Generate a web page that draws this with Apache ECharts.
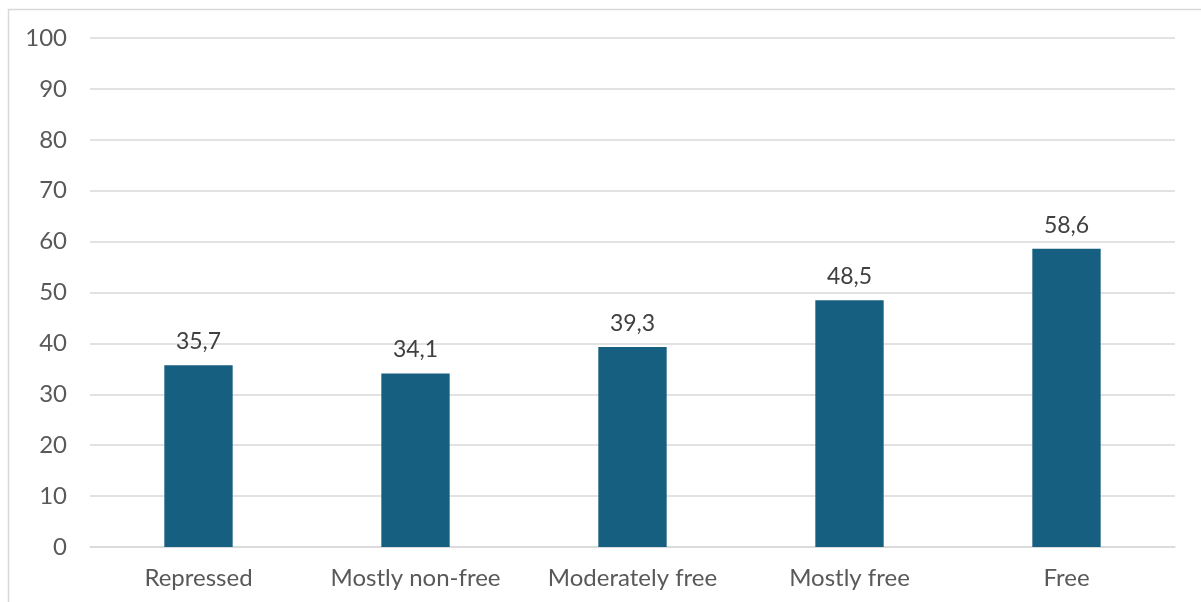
<!DOCTYPE html>
<html>
<head>
<meta charset="utf-8">
<script src="https://cdn.jsdelivr.net/npm/echarts@6/dist/echarts.min.js"></script>
<style>
  html, body { margin: 0; padding: 0; background: #ffffff; }
  #chart { width: 1201px; height: 602px; }
</style>
</head>
<body>
<div id="chart"></div>
<script>
// Categories and values for the bar chart
const categories = ['Repressed', 'Mostly non-free', 'Moderately free', 'Mostly free', 'Free'];
const values = [35.7, 34.1, 39.3, 48.5, 58.6];
const yTicks = [0, 10, 20, 30, 40, 50, 60, 70, 80, 90, 100];

const chart = echarts.init(document.getElementById('chart'), null, { renderer: 'canvas' });

const fmt = v => String(v).replace('.', ',');

chart.setOption({
  backgroundColor: '#ffffff',
  animation: false,
  textStyle: { fontFamily: 'Lato' },
  graphic: [{
    type: 'rect',
    shape: { x: 8.5, y: 9.5, width: 1200, height: 600 },
    style: { fill: 'none', stroke: '#d9d9d9', lineWidth: 1.5 },
    silent: true
  }],
  grid: { left: 90, right: 26, top: 38, bottom: 55, containLabel: false },
  xAxis: {
    type: 'category',
    data: categories,
    axisLine: { show: true, lineStyle: { color: '#d9d9d9', width: 1.5 } },
    axisTick: { show: false },
    axisLabel: {
      color: '#595959', fontSize: 24, fontFamily: 'Lato', margin: 19,
      interval: 0, hideOverlap: false
    }
  },
  yAxis: {
    type: 'value',
    min: yTicks[0],
    max: yTicks[yTicks.length - 1],
    interval: 10,
    axisLine: { show: false },
    axisTick: { show: false },
    axisLabel: { color: '#595959', fontSize: 24, fontFamily: 'Lato', margin: 23 },
    splitLine: { lineStyle: { color: '#d9d9d9', width: 1.5 } }
  },
  series: [{
    type: 'bar',
    data: values,
    barWidth: '31.5%',
    itemStyle: { color: '#175F80' },
    label: {
      show: true,
      position: 'top',
      distance: 12,
      color: '#404040',
      fontSize: 23,
      fontFamily: 'Lato',
      formatter: p => fmt(p.value)
    }
  }]
});
</script>
</body>
</html>
